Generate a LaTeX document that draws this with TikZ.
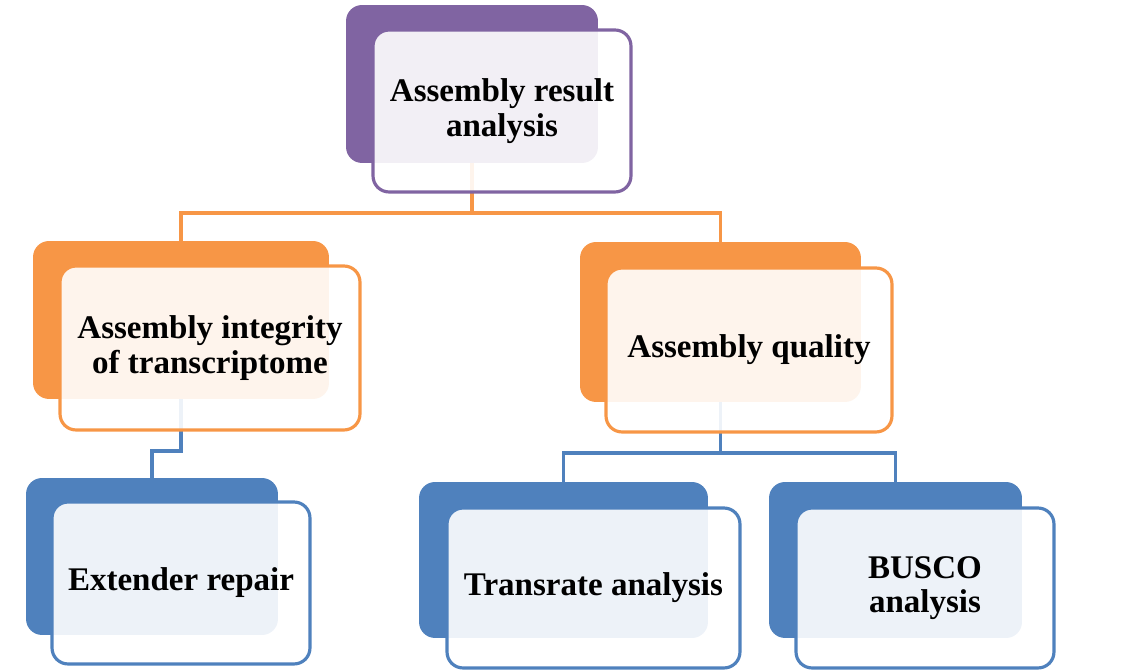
\documentclass[tikz,border=0pt]{standalone}
\usepackage{fontspec}
\setmainfont{Liberation Serif}
\usetikzlibrary{positioning}

\begin{document}
\begin{tikzpicture}[x=0.02cm, y=-0.02cm,
    backbox/.style={rectangle, rounded corners=0.32cm, fill=#1, draw=none},
    frontbox/.style={rectangle, rounded corners=0.32cm, draw=#1, line width=1.8pt,
        fill=white, fill opacity=0.9, text opacity=1, align=center,
        font=\bfseries\fontsize{18.8}{19.5}\selectfont},
    link/.style={draw=#1, line width=1.8pt}]
    % Define colours
    \definecolor{purpleColour}{HTML}{8064A2}
    \definecolor{orangeColour}{HTML}{F79646}
    \definecolor{blueColour}{HTML}{4F81BD}

    % Fix the canvas
    \useasboundingbox (0,0) rectangle (1134,671);

    % Draw the back cards
    \node[backbox=purpleColour, minimum width=5.04cm, minimum height=3.16cm] (resultback) at (472,84) {};
    \node[backbox=orangeColour, minimum width=5.92cm, minimum height=3.16cm] (integrityback) at (181,320) {};
    \node[backbox=orangeColour, minimum width=5.62cm, minimum height=3.20cm] (qualityback) at (720.5,322) {};
    \node[backbox=blueColour, minimum width=5.04cm, minimum height=3.14cm] (extenderback) at (152,556.5) {};
    \node[backbox=blueColour, minimum width=5.78cm, minimum height=3.12cm] (transrateback) at (563.5,560) {};
    \node[backbox=blueColour, minimum width=5.06cm, minimum height=3.12cm] (buscoback) at (895.5,560) {};

    % Define the bus points
    \coordinate (orangeBus) at (472,213);
    \coordinate (leftBus) at (181,451);
    \coordinate (rightBus) at (720.5,453);

    % Draw the connectors
    \draw[link=orangeColour] (resultback.south) -- (orangeBus) -| (integrityback.north);
    \draw[link=orangeColour] (orangeBus) -| (qualityback.north);
    \draw[link=blueColour] (integrityback.south) -- (leftBus) -| (extenderback.north);
    \draw[link=blueColour] (qualityback.south) -- (rightBus) -| (transrateback.north);
    \draw[link=blueColour] (rightBus) -| (buscoback.north);

    % Draw the front cards with their labels
    \node[frontbox=purpleColour, minimum width=5.16cm, minimum height=3.24cm] (resultbox) at (502,111) {Assembly result\\analysis};
    \node[frontbox=orangeColour, minimum width=6.00cm, minimum height=3.28cm] (integritybox) at (210,348) {Assembly integrity\\of transcriptome};
    \node[frontbox=orangeColour, minimum width=5.72cm, minimum height=3.28cm] (qualitybox) at (749,350) {Assembly quality};
    \node[frontbox=blueColour, minimum width=5.16cm, minimum height=3.24cm] (extenderbox) at (181,583) {Extender repair};
    \node[frontbox=blueColour, minimum width=5.86cm, minimum height=3.20cm] (transratebox) at (593.5,588) {Transrate analysis};
    \node[frontbox=blueColour, minimum width=5.16cm, minimum height=3.20cm] (buscobox) at (925,588) {BUSCO\\analysis};

\end{tikzpicture}
\end{document}
